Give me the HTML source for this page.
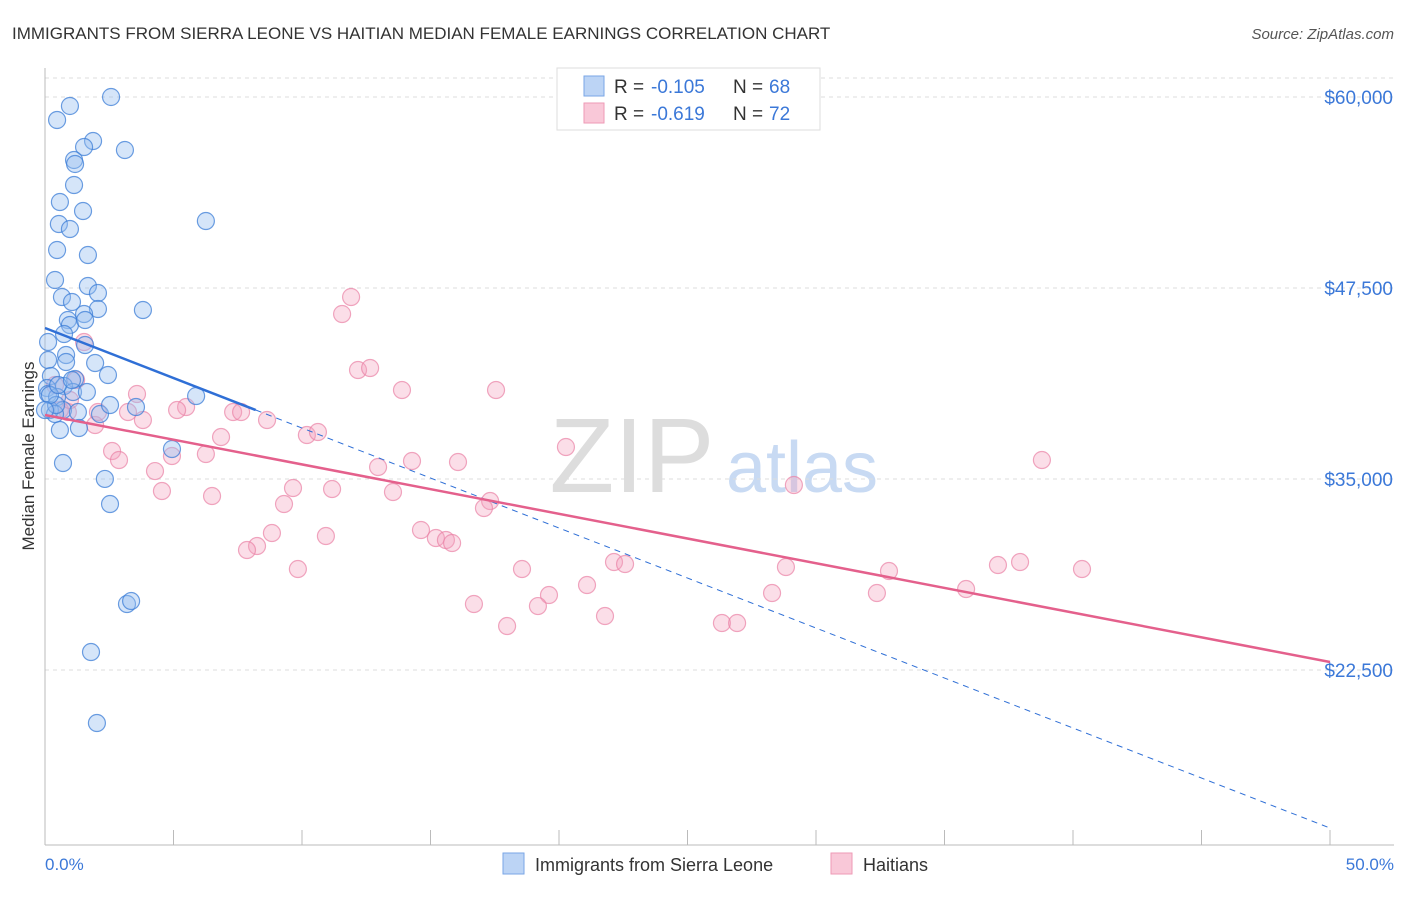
<!DOCTYPE html>
<html><head><meta charset="utf-8"><style>
body{margin:0;background:#fff;font-family:"Liberation Sans",sans-serif;}
svg text{font-family:"Liberation Sans",sans-serif;}
</style></head><body>
<svg id="c" width="1406" height="892" xmlns="http://www.w3.org/2000/svg">
<text x="12" y="39" font-size="17" fill="#333">IMMIGRANTS FROM SIERRA LEONE VS HAITIAN MEDIAN FEMALE EARNINGS CORRELATION CHART</text>
<text x="1394" y="39" font-size="15" fill="#555" font-style="italic" text-anchor="end">Source: ZipAtlas.com</text>
<text x="632" y="492" font-size="106" fill="#ddd" font-family="Liberation Serif" text-anchor="middle">ZIP</text>
<text x="802" y="492" font-size="72" fill="#c8daf3" text-anchor="middle">atlas</text>
<g id="grid"></g><g id="pts"></g><g id="lines"></g>
<text transform="translate(34,456) rotate(-90)" font-size="17" fill="#333" text-anchor="middle">Median Female Earnings</text>
<text x="45" y="870" font-size="17" fill="#3b78d8">0.0%</text>
<text x="1394" y="870" font-size="17" fill="#3b78d8" text-anchor="end">50.0%</text>
<g>
<rect x="557" y="68" width="263" height="62" fill="#fff" stroke="#ddd"/>
<rect x="584" y="76" width="20" height="20" fill="#bcd4f5" stroke="#7aa6e6"/>
<rect x="584" y="103" width="20" height="20" fill="#f9c8d8" stroke="#ee9ab6"/>
<text x="614" y="93" font-size="19" fill="#333">R =</text>
<text x="651" y="93" font-size="19" fill="#3b78d8">-0.105</text>
<text x="733" y="93" font-size="19" fill="#333">N =</text>
<text x="769" y="93" font-size="19" fill="#3b78d8">68</text>
<text x="614" y="120" font-size="19" fill="#333">R =</text>
<text x="651" y="120" font-size="19" fill="#3b78d8">-0.619</text>
<text x="733" y="120" font-size="19" fill="#333">N =</text>
<text x="769" y="120" font-size="19" fill="#3b78d8">72</text>
</g>
<g>
<rect x="503" y="853" width="21" height="21" fill="#bcd4f5" stroke="#7aa6e6"/>
<text x="535" y="871" font-size="18" fill="#333">Immigrants from Sierra Leone</text>
<rect x="831" y="853" width="21" height="21" fill="#f9c8d8" stroke="#ee9ab6"/>
<text x="863" y="871" font-size="18" fill="#333">Haitians</text>
</g>
</svg>
<script>
const yTicks=[60000,47500,35000,22500];
const yTickLabels=["$60,000","$47,500","$35,000","$22,500"];
const blueX=[2.57,0.97,0.47,1.87,1.52,3.11,1.13,1.17,1.13,1.48,0.58,0.54,0.97,0.47,1.67,6.26,0.39,1.67,0.66,2.06,1.05,3.81,2.06,1.52,0.89,0.97,1.56,0.74,0.12,1.56,0.82,0.12,1.95,0.82,2.45,0.23,1.17,0.74,0.08,1.09,1.63,0.12,0.47,5.88,2.14,0.70,0.19,0.39,1.28,3.54,0.58,1.32,2.53,0.43,4.94,0.70,2.33,2.53,3.19,3.35,1.79,2.02,0.19,0.51,1.05,0.0];
const blueY=[60000,59411,58495,57120,56727,56531,55877,55615,54240,52539,53128,51688,51361,49986,49659,51884,48023,47630,46910,47172,46583,46059,46125,45798,45405,45078,45405,44488,43965,43768,43114,42787,42590,42656,41805,41739,41543,41085,40955,40693,40693,40562,40365,40431,39252,39514,39514,39252,39383,39710,38205,38336,39841,39841,36962,36045,35003,33362,26818,27014,23676,19029,40497,41150,41477,39514];
const pinkX=[11.91,11.56,1.52,12.18,12.65,13.89,17.55,3.58,1.21,5.49,5.14,7.32,7.63,8.64,3.81,3.23,1.95,0.89,0.58,2.61,2.88,4.28,4.94,6.26,6.85,10.19,10.62,12.96,14.28,16.07,20.27,29.14,38.79,4.55,6.50,9.65,11.17,13.54,17.32,17.08,9.30,8.83,10.93,14.63,15.21,15.60,15.84,8.25,7.86,9.84,18.56,22.14,22.57,21.09,19.61,19.18,16.69,17.98,21.79,26.34,26.93,28.29,28.83,32.37,32.84,35.84,37.08,37.94,40.35,2.06,0.39,0.97];
const pinkY=[46910,45798,43965,42132,42263,40823,40823,40562,41477,39710,39514,39383,39383,38860,38860,39383,38532,39383,39514,36831,36242,35521,36503,36634,37747,37878,38074,35783,36176,36111,37093,34606,36242,34213,33885,34409,34344,34148,33558,33100,33362,31464,31268,31661,31137,31006,30810,30613,30351,29108,29108,29566,29435,28061,27406,26686,26818,25378,26032,25574,25574,27537,29239,27537,28977,27799,29370,29566,29108,39383,41150,40169];
const blueTrend=[44881,12157];
const pinkTrend=[39187,23021];
const NS="http://www.w3.org/2000/svg";
const X=v=>45+v*25.7;
const Y=v=>97+(60000-v)*191/12500;
function mk(t,a,p){const e=document.createElementNS(NS,t);for(const k in a)e.setAttribute(k,a[k]);p.appendChild(e);return e;}
const grid=document.getElementById('grid');
mk('line',{x1:45,y1:78,x2:1394,y2:78,stroke:'#ddd','stroke-dasharray':'4,4'},grid);
yTicks.forEach((t,i)=>{
 const l=mk('line',{x1:45,y1:Y(t),x2:1394,y2:Y(t),stroke:'#ddd','stroke-dasharray':'4,4'},grid);
 
 
 const tx=mk('text',{x:1393,y:Y(t)+7,'font-size':19,fill:'#3b78d8','text-anchor':'end'},grid);
 tx.textContent=yTickLabels[i];
 
 
});
mk('line',{x1:45,y1:68,x2:45,y2:845,stroke:'#bbb'},grid);
mk('line',{x1:45,y1:845,x2:1394,y2:845,stroke:'#bbb'},grid);
for(let i=0;i<=10;i++){mk('line',{x1:X(i*5),y1:830,x2:X(i*5),y2:845,stroke:'#bbb'},grid);}
const pts=document.getElementById('pts');
pinkX.forEach((x,i)=>{const c=mk('circle',{cx:X(x),cy:Y(pinkY[i]),r:8.5,fill:'rgba(244,160,190,0.35)',stroke:'rgba(234,130,165,0.7)','stroke-width':1.2},pts);
 
 });
blueX.forEach((x,i)=>{const c=mk('circle',{cx:X(x),cy:Y(blueY[i]),r:8.5,fill:'rgba(150,190,240,0.4)',stroke:'rgba(60,125,215,0.75)','stroke-width':1.2},pts);
 
 });
const lines=document.getElementById('lines');
const bAt=x=>blueTrend[0]+(blueTrend[1]-blueTrend[0])*x/50;
const pAt=x=>pinkTrend[0]+(pinkTrend[1]-pinkTrend[0])*x/50;
const b1=mk('line',{x1:X(0),y1:Y(bAt(0)),x2:X(8.2),y2:Y(bAt(8.2)),stroke:'#2f6fd6','stroke-width':2.5},lines);


const b2=mk('line',{x1:X(8.2),y1:Y(bAt(8.2)),x2:X(50),y2:Y(bAt(50)),stroke:'#2f6fd6','stroke-width':1,'stroke-dasharray':'6,5'},lines);


const p1=mk('line',{x1:X(0),y1:Y(pAt(0)),x2:X(50),y2:Y(pAt(50)),stroke:'#e4608c','stroke-width':2.5},lines);


</script>
</body></html>
